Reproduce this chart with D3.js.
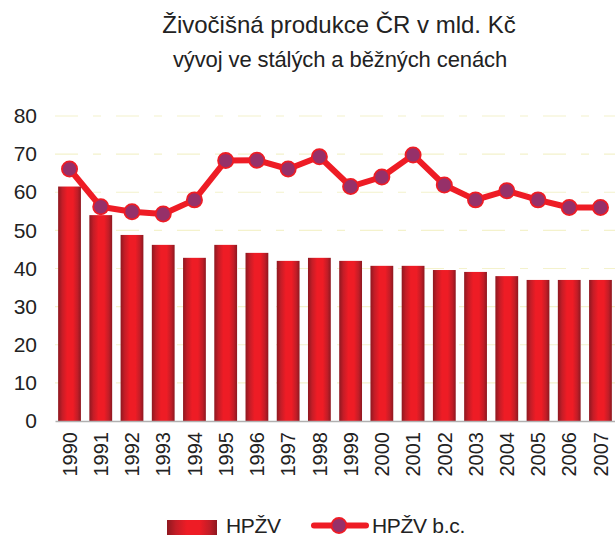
<!DOCTYPE html>
<html>
<head>
<meta charset="utf-8">
<script src="https://cdn.jsdelivr.net/npm/d3@7"></script>
<style>
  body { margin: 0; background: #fff; }
  svg { font-family: "Liberation Sans", Arial, Helvetica, sans-serif; }
</style>
</head>
<body>
<div id="chart"></div>
<script>
const years = ["1990","1991","1992","1993","1994","1995","1996","1997","1998","1999","2000","2001","2002","2003","2004","2005","2006","2007"];
const hpzv = [61.5, 54, 48.8, 46.2, 42.8, 46.2, 44.1, 42, 42.8, 42, 40.7, 40.7, 39.6, 39.1, 38, 37, 37, 37];
const hpzvBc = [66.1, 56.2, 54.9, 54.3, 58, 68.3, 68.4, 66.1, 69.3, 61.5, 64, 69.8, 61.9, 58, 60.4, 58, 56, 56];
const yTicks = [0, 10, 20, 30, 40, 50, 60, 70, 80];

const W = 615, H = 538;
const plot = { left: 55, right: 615, top: 116, bottom: 421 };

const svg = d3.select("#chart").append("svg")
    .attr("width", W)
    .attr("height", H);

const defs = svg.append("defs");
const grad = defs.append("linearGradient")
    .attr("id", "barGrad")
    .attr("x1", "0%").attr("x2", "100%")
    .attr("y1", "0%").attr("y2", "0%");
[
    {offset: "0%", color: "#8e1820"},
    {offset: "18%", color: "#c41d27"},
    {offset: "40%", color: "#ee1c25"},
    {offset: "65%", color: "#ee1c25"},
    {offset: "85%", color: "#c21d27"},
    {offset: "100%", color: "#8e1820"}
].forEach(s => grad.append("stop").attr("offset", s.offset).attr("stop-color", s.color));

const x = d3.scaleBand()
    .domain(years)
    .range([plot.left, plot.right])
    .paddingInner(0.27)
    .paddingOuter(0.1);

const y = d3.scaleLinear()
    .domain([0, 80])
    .range([plot.bottom, plot.top]);

// titles
svg.append("text")
    .attr("x", 339).attr("y", 33)
    .attr("text-anchor", "middle")
    .style("font-size", "24px")
    .attr("fill", "#222")
    .text("Živočišná produkce ČR v mld. Kč");
svg.append("text")
    .attr("x", 340).attr("y", 67)
    .attr("text-anchor", "middle")
    .style("font-size", "22px")
    .style("letter-spacing", "-0.1px")
    .attr("fill", "#222")
    .text("vývoj ve stálých a běžných cenách");

// gridlines
svg.append("g")
    .selectAll("line")
    .data(yTicks.filter(d => d > 0))
    .enter().append("line")
    .attr("x1", plot.left).attr("x2", plot.right)
    .attr("y1", d => y(d)).attr("y2", d => y(d))
    .attr("stroke", "#f4f2cc")
    .attr("stroke-width", 1.2)
    .attr("stroke-dasharray", "23,15,8,15");

// y axis labels
const yAxis = svg.append("g")
    .attr("transform", `translate(${plot.left}, 0)`)
    .call(d3.axisLeft(y).tickValues(yTicks).tickSize(0).tickPadding(18));
yAxis.select(".domain").remove();
yAxis.selectAll("text")
    .style("font-size", "21px")
    .style("font-family", "\"Liberation Sans\", Arial, sans-serif")
    .attr("fill", "#222");

// bars
svg.append("g")
    .selectAll("rect")
    .data(years)
    .enter().append("rect")
    .attr("x", d => x(d))
    .attr("y", (d, i) => y(hpzv[i]))
    .attr("width", x.bandwidth())
    .attr("height", (d, i) => y(0) - y(hpzv[i]))
    .attr("fill", "url(#barGrad)");

// x axis
const xAxis = svg.append("g")
    .attr("transform", `translate(0, ${plot.bottom})`)
    .call(d3.axisBottom(x).tickSize(0).tickPadding(0));
xAxis.select(".domain")
    .attr("stroke", "#b0b0b0")
    .attr("stroke-width", 1.5);
xAxis.selectAll("text")
    .style("font-size", "20px")
    .style("font-family", "\"Liberation Sans\", Arial, sans-serif")
    .attr("fill", "#222")
    .style("text-anchor", "end")
    .attr("dy", "0.36em")
    .attr("transform", "translate(0, 11) rotate(-90)");

// line
const line = d3.line()
    .x((d, i) => x(years[i]) + x.bandwidth() / 2)
    .y(d => y(d));

svg.append("path")
    .datum(hpzvBc)
    .attr("d", line)
    .attr("fill", "none")
    .attr("stroke", "#ee1c25")
    .attr("stroke-width", 6)
    .attr("stroke-linejoin", "round");

svg.append("g")
    .selectAll("circle")
    .data(hpzvBc)
    .enter().append("circle")
    .attr("cx", (d, i) => x(years[i]) + x.bandwidth() / 2)
    .attr("cy", d => y(d))
    .attr("r", 7.6)
    .attr("fill", "#963069")
    .attr("stroke", "#ee1c25")
    .attr("stroke-width", 1.8);

// legend
const legend = svg.append("g");
legend.append("rect")
    .attr("x", 167).attr("y", 520)
    .attr("width", 50).attr("height", 15)
    .attr("fill", "url(#barGrad)");
legend.append("text")
    .attr("x", 226).attr("y", 533)
    .style("font-size", "21px")
    .style("letter-spacing", "-0.3px")
    .attr("fill", "#222")
    .text("HPŽV");
legend.append("line")
    .attr("x1", 314).attr("x2", 366)
    .attr("y1", 525.5).attr("y2", 525.5)
    .attr("stroke", "#ee1c25")
    .attr("stroke-width", 6)
    .attr("stroke-linecap", "round");
legend.append("circle")
    .attr("cx", 339).attr("cy", 525.5)
    .attr("r", 7.5)
    .attr("fill", "#963069")
    .attr("stroke", "#ee1c25")
    .attr("stroke-width", 1.8);
legend.append("text")
    .attr("x", 372).attr("y", 533)
    .style("font-size", "21px")
    .style("letter-spacing", "-0.3px")
    .attr("fill", "#222")
    .text("HPŽV b.c.");
</script>
</body>
</html>
